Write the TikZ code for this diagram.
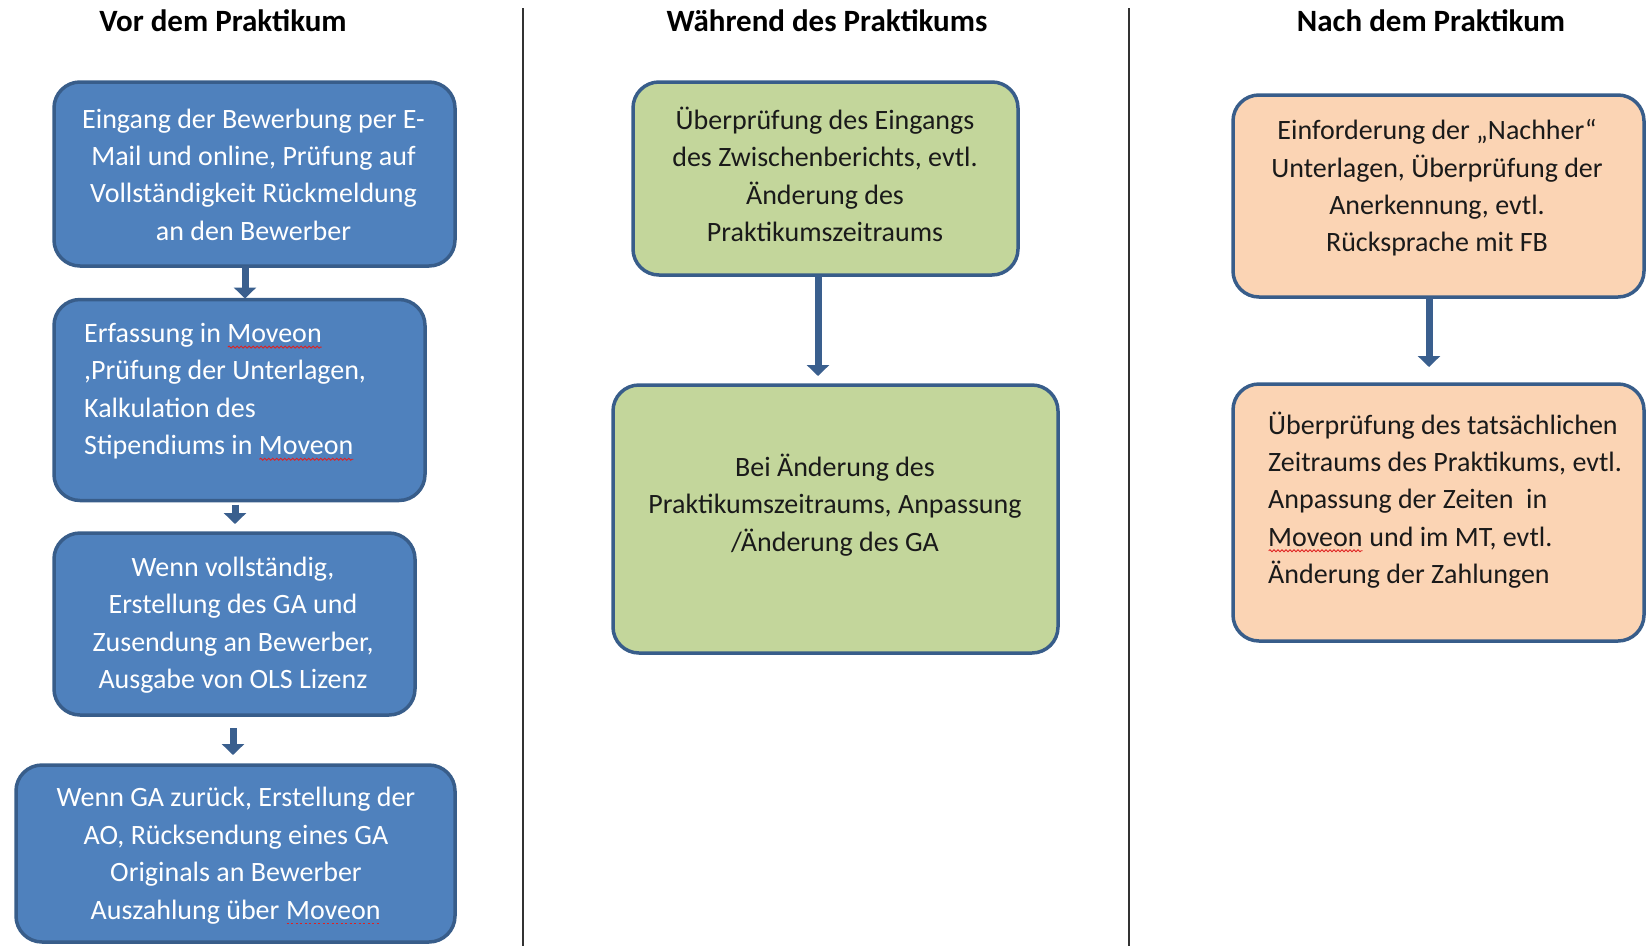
\documentclass[tikz,border=0pt]{standalone}
\usepackage{fontspec}
\setmainfont{Carlito}
\usetikzlibrary{arrows.meta,calc,decorations.pathmorphing}
\definecolor{bluefill}{HTML}{4F81BD}
\definecolor{blueline}{HTML}{385D8A}
\definecolor{greenfill}{HTML}{C3D69B}
\definecolor{orangefill}{HTML}{FBD4B4}
\definecolor{arrowcol}{HTML}{3A5F8E}
\definecolor{darktext}{HTML}{1A1A1A}
\definecolor{spellred}{HTML}{E02020}
\newcommand\sqword[2]{\tikz[baseline=0pt,x=1pt,y=1pt]{\node[inner sep=0pt,outer sep=0pt,anchor=base west] (wrd) at (0,0) {#2};
  \draw[#1] (0.5,-4.5) -- (wrd.base east |- 0,-4.5);}}
\tikzset{
  wavy/.style={spellred, line width=0.9pt, decorate, decoration={snake, amplitude=1pt, segment length=4pt}},
  dotty/.style={spellred, line width=1.6pt, dash pattern=on 2pt off 2.5pt},
  box/.style={draw=blueline, line width=3.5pt, rounded corners=26pt, rectangle, inner sep=0pt, outer sep=0pt},
  bluebox/.style={box, fill=bluefill},
  greenbox/.style={box, fill=greenfill},
  orangebox/.style={box, fill=orangefill},
  txt/.style={inner sep=0pt, font=\fontsize{28}{37.4}\selectfont},
  wtxt/.style={txt, text=white},
  btxt/.style={txt, text=darktext},
  head/.style={inner sep=0pt, font=\fontsize{31}{36}\selectfont\bfseries, text=black},
  blockarrow/.style={draw=arrowcol, line width=7pt, -{Triangle[width=22pt,length=11pt]}, arrowcol},
  sep/.style={draw=black!80, line width=2pt}
}
\begin{document}
\begin{tikzpicture}[x=1pt,y=-1pt]
\useasboundingbox (0,0) rectangle (1647,946);
% separators
\coordinate (s1t) at (523,8); \coordinate (s1b) at (523,946);
\coordinate (s2t) at (1129,8); \coordinate (s2b) at (1129,946);
\draw[sep] (s1t) -- (s1b);
\draw[sep] (s2t) -- (s2b);
% headers
\node[head] (h1) at (223,21) {Vor dem Praktikum};
\node[head] (h2) at (827,21) {Während des Praktikums};
\node[head] (h3) at (1431,21) {Nach dem Praktikum};
% left column
\node[bluebox, minimum width=401pt, minimum height=184pt] (b1) at (254.5,174) {};
\node[bluebox, minimum width=371pt, minimum height=201pt] (b2) at (239.5,400) {};
\node[bluebox, minimum width=361pt, minimum height=182pt] (b3) at (234.5,624) {};
\node[bluebox, minimum width=439pt, minimum height=177pt] (b4) at (235.5,853.5) {};
\node[wtxt, align=center] (t1) at (253.5,174.5) {Eingang der Bewerbung per E-\\Mail und online, Prüfung auf\\Vollständigkeit Rückmeldung\\an den Bewerber};
\node[wtxt, align=left, anchor=west] (t2) at (84,392) {Erfassung in \sqword{wavy}{Moveon}\\,Prüfung der Unterlagen,\\Kalkulation des\\Stipendiums in \sqword{wavy}{Moveon}};
\node[wtxt, align=center] (t3) at (233,625) {Wenn vollständig,\\Erstellung des GA und\\Zusendung an Bewerber,\\Ausgabe von OLS Lizenz};
\node[wtxt, align=center] (t4) at (236,856) {Wenn GA zurück, Erstellung der\\AO, Rücksendung eines GA\\Originals an Bewerber\\Auszahlung über \sqword{dotty}{Moveon}};
\draw[blockarrow] ($(b1.south)+(-9.5,0)$) -- ($(b2.north)+(5.5,-1)$);
\draw[blockarrow] ($(b2.south)+(-4.5,4)$) -- ($(b3.north)+(0.5,-9)$);
\draw[blockarrow] ($(b3.south)+(-1.5,13)$) -- ($(b4.north)+(-2.5,-10)$);
% middle column
\node[greenbox, minimum width=385pt, minimum height=193pt] (m1) at (825.5,178.5) {};
\node[greenbox, minimum width=445pt, minimum height=268pt] (m2) at (835.5,519) {};
\node[btxt, align=center] (tm1) at (825,174.5) {Überprüfung des Eingangs\\des Zwischenberichts, evtl.\\Änderung des\\Praktikumszeitraums};
\node[btxt, align=center] (tm2) at (835,505) {Bei Änderung des\\Praktikumszeitraums, Anpassung\\/Änderung des GA};
\draw[blockarrow] ($(m1.south)+(-7.5,0)$) -- ($(m2.north)+(-17.5,-9)$);
% right column
\node[orangebox, minimum width=411pt, minimum height=202pt] (r1) at (1438.5,196) {};
\node[orangebox, minimum width=411pt, minimum height=257pt] (r2) at (1438.5,512.5) {};
\node[btxt, align=center] (tr1) at (1437,188) {Einforderung der „Nachher“\\Unterlagen, Überprüfung der\\Anerkennung, evtl.\\Rücksprache mit FB};
\node[btxt, align=left, anchor=west] (tr2) at (1268,500) {Überprüfung des tatsächlichen\\Zeitraums des Praktikums, evtl.\\Anpassung der Zeiten~~in\\\sqword{wavy}{Moveon} und im MT, evtl.\\Änderung der Zahlungen};
\draw[blockarrow] ($(r1.south)+(-9.5,0)$) -- ($(r2.north)+(-9.5,-17)$);
\end{tikzpicture}
\end{document}
